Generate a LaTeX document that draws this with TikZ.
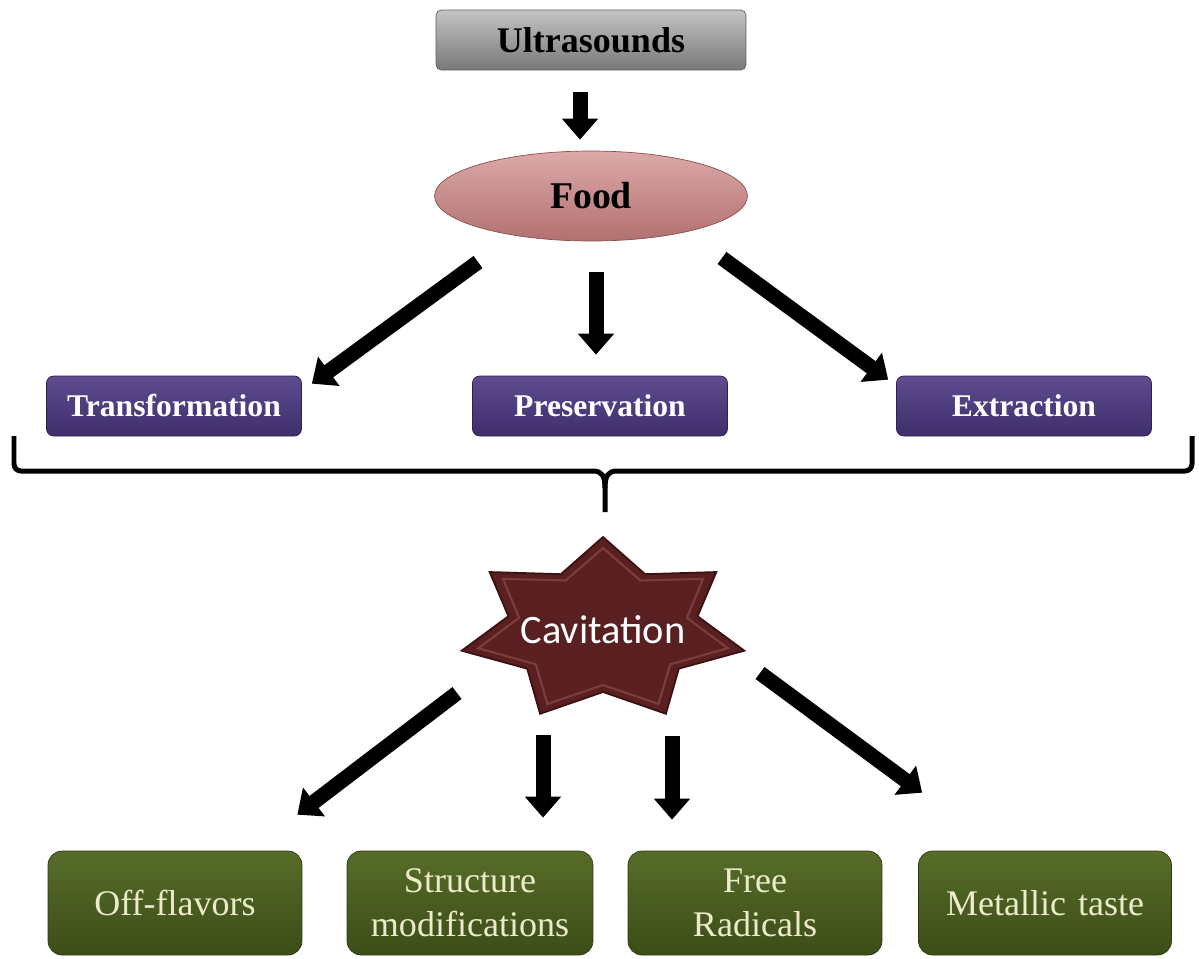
\documentclass[tikz,border=0pt]{standalone}
\usepackage{fontspec}
\setmainfont{Liberation Serif}
\newfontfamily\cavfont{Carlito}
\usepackage{xcolor}
\usepackage{tikz}
\usetikzlibrary{shapes.geometric, arrows.meta, backgrounds, positioning}
\definecolor{srctop}{HTML}{C4C4C4}
\definecolor{srcbottom}{HTML}{787878}
\definecolor{srcedge}{HTML}{5E5E5E}
\definecolor{foodtop}{HTML}{DDA9A9}
\definecolor{foodbottom}{HTML}{B27070}
\definecolor{foodedge}{HTML}{8A5050}
\definecolor{apptop}{HTML}{5E4C8F}
\definecolor{appbottom}{HTML}{3E2E6C}
\definecolor{appedge}{HTML}{2E2250}
\definecolor{starfill}{HTML}{5A1F20}
\definecolor{starbevel}{HTML}{7E3C3C}
\definecolor{staredge}{HTML}{3B1010}
\definecolor{efftop}{HTML}{576C29}
\definecolor{effbottom}{HTML}{3C4D17}
\definecolor{effedge}{HTML}{2B3910}
\definecolor{efftext}{HTML}{EBEBC9}
\tikzstyle{source}      = [rectangle, rounded corners=3pt, minimum width=6.2cm, minimum height=1.2cm, draw=srcedge, top color=srctop, bottom color=srcbottom, font=\bfseries\fontsize{20.5}{24}\selectfont]
\tikzstyle{foodshape}   = [ellipse, minimum width=6.26cm, minimum height=1.8cm, draw=foodedge, top color=foodtop, bottom color=foodbottom, font=\bfseries\fontsize{21.5}{24}\selectfont]
\tikzstyle{application} = [rectangle, rounded corners=4pt, minimum width=5.1cm, minimum height=1.2cm, draw=appedge, top color=apptop, bottom color=appbottom, text=white, font=\bfseries\fontsize{18}{20}\selectfont]
\tikzstyle{cavity}      = [ellipse, minimum width=5.8cm, minimum height=3.7cm, inner sep=0pt, text=white, font=\cavfont\fontsize{23}{26}\selectfont]
\tikzstyle{effect}      = [rectangle, rounded corners=8pt, minimum height=2.08cm, text width=4.6cm, align=center, draw=effedge, top color=efftop, bottom color=effbottom, text=efftext, font=\fontsize{20.5}{25}\selectfont]
\tikzstyle{fatarrow}    = [line width=0.3cm, -{Triangle[width=0.7cm, length=0.42cm]}]
\tikzstyle{bracket}     = [line width=0.1cm, line join=round]

\begin{document}
\begin{tikzpicture}[x=0.02cm, y=-0.02cm]
      \useasboundingbox (0,0) rectangle (1199,958);
      % Nodes
      \node (ultrasounds)    [source]    at (591,40)  {Ultrasounds};
      \node (food)           [foodshape] at (591,196) {Food};
      %% Food processing
      \node (transformation) [application] at (174,406)  {Transformation};
      \node (preservation)   [application] at (600,406)  {Preservation};
      \node (extraction)     [application] at (1024,406) {Extraction};
      %% Cavitation and its effects
      \node (cavitation)     [cavity] at (603,630) {Cavitation};
      \node (off_flavors)    [effect, minimum width=5.08cm] at (175,903)  {Off-flavors};
      \node (structure)      [effect, minimum width=4.92cm] at (470,903)  {Structure\\modifications};
      \node (free_radicals)  [effect, minimum width=5.08cm] at (755,903)  {Free\\Radicals};
      \node (metallic_taste) [effect, minimum width=5.06cm] at (1045,903) {Metallic taste};

      % Star behind the cavitation label
      \begin{pgfonlayer}{background}
        \fill[starfill, draw=staredge, line width=1pt, shift={(cavitation.center)}]
          plot[variable=\k, samples at={0,...,13}]
          ({(mod(\k,2)==0 ? 145 : 97)*cos(90+\k*360/14)}, {-(mod(\k,2)==0 ? 93 : 62)*sin(90+\k*360/14)}) -- cycle;
        \draw[starbevel, line width=1.2pt, shift={(cavitation.center)}]
          plot[variable=\k, samples at={0,...,13}]
          ({(mod(\k,2)==0 ? 128 : 86)*cos(90+\k*360/14)}, {-(mod(\k,2)==0 ? 82 : 55)*sin(90+\k*360/14)}) -- cycle;
      \end{pgfonlayer}

      % % Arrows
      \draw [fatarrow] ([shift={(-11,22)}]ultrasounds.south) -- ([shift={(-11,-11)}]food.north);
      \draw [fatarrow] ([shift={(-113,66)}]food.center)      -- ([shift={(10,8)}]transformation.north east);
      \draw [fatarrow] ([shift={(5,31)}]food.south)          -- ([shift={(-4,-21)}]preservation.north);
      \draw [fatarrow] ([shift={(131,62)}]food.center)       -- ([shift={(-8,4)}]extraction.north west);
      \draw [fatarrow] ([shift={(-146,63)}]cavitation.center) -- ([shift={(-5,-36)}]off_flavors.north east);
      \draw [fatarrow] ([shift={(-60,105)}]cavitation.center) -- ([shift={(73,-33)}]structure.north);
      \draw [fatarrow] ([shift={(69,106)}]cavitation.center)  -- ([shift={(-83,-31)}]free_radicals.north);
      \draw [fatarrow] ([shift={(157,43)}]cavitation.center)  -- ([shift={(4,-58)}]metallic_taste.north west);

      % % Bracket gathering the three processes
      \coordinate (bracket_left)  at (14,436);
      \coordinate (bracket_right) at (1192,436);
      \coordinate (bracket_tip)   at (605,512);
      \draw [bracket, rounded corners=4pt] (bracket_left) |- ([shift={(-12,-41)}]bracket_tip);
      \draw [bracket, rounded corners=4pt] (bracket_right) |- ([shift={(12,-41)}]bracket_tip);
      \draw [bracket] ([shift={(-12,-41)}]bracket_tip) .. controls ([shift={(-3,-41)}]bracket_tip) and ([shift={(0,-36)}]bracket_tip) .. ([shift={(0,-24)}]bracket_tip) -- (bracket_tip);
      \draw [bracket] ([shift={(12,-41)}]bracket_tip) .. controls ([shift={(3,-41)}]bracket_tip) and ([shift={(0,-36)}]bracket_tip) .. ([shift={(0,-24)}]bracket_tip);
    \end{tikzpicture}
\end{document}
